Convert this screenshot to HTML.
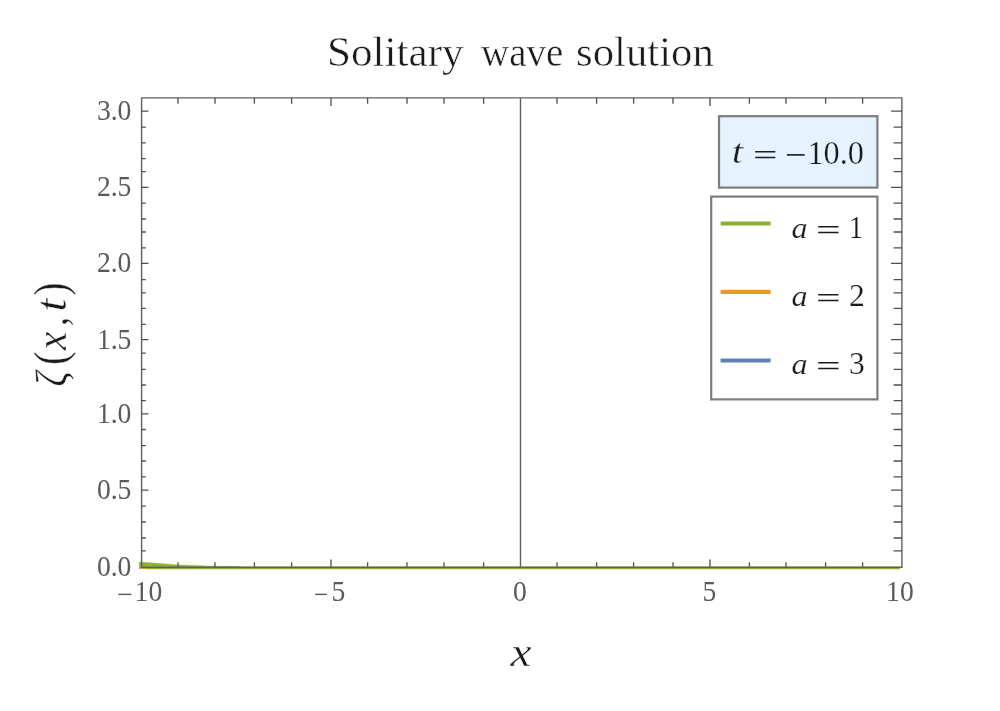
<!DOCTYPE html>
<html lang="en">
<head>
<meta charset="utf-8">
<title>Solitary wave solution</title>
<style>
html,body{margin:0;padding:0;background:#fff;}
body{width:1000px;height:711px;overflow:hidden;position:relative;font-family:"Liberation Serif",serif;}
svg{position:absolute;left:0;top:0;display:block;will-change:transform;}
text{font-family:"Liberation Serif",serif;}
.tk text{font-size:29px;fill:#5a5a5a;}
.it{font-style:italic;}
</style>
</head>
<body>
<svg width="1000" height="711" viewBox="0 0 1000 711">
<!-- curves -->
<path d="M139.3 568.2H900" stroke="#5e81b5" stroke-width="1.6" fill="none"/>
<path d="M139.3 568.2H900" stroke="#e19c24" stroke-width="1.6" fill="none"/>
<path d="M139.3 566.8H900.2V569.35H146.5V568.2H139.3Z" fill="#8fb032"/>
<path d="M139.3 562.1 L150 562.8 L160 563.5 L178 564.9 L196 565.6 L215 566.2 L240 566.7 L139.3 566.7Z" fill="#8fb032" stroke="#8fb032" stroke-width="0.4"/>
<!-- x = 0 gridline -->
<path d="M520.5 97.9V566.8" stroke="#606060" stroke-width="1.4" fill="none"/>
<!-- frame -->
<path d="M141.6 567.4V97.9H901.9V567.4" fill="none" stroke="#606060" stroke-width="1.4"/>
<rect x="140.9" y="566" width="761.7" height="1" fill="#605c7d" fill-opacity="0.52"/>
<rect x="140.9" y="567" width="761.7" height="1" fill="#4a5a2a" fill-opacity="0.8"/>
<path d="M178.0 97.9V103.8 M178.0 566.8V562.2 M215.0 97.9V103.8 M215.0 566.8V562.2 M254.4 97.9V103.8 M254.4 566.8V562.2 M291.6 97.9V103.8 M291.6 566.8V562.2 M331.0 97.9V106.1 M331.0 566.8V559.6 M367.6 97.9V103.8 M367.6 566.8V562.2 M407.0 97.9V103.8 M407.0 566.8V562.2 M444.0 97.9V103.8 M444.0 566.8V562.2 M483.6 97.9V103.8 M483.6 566.8V562.2 M557.0 97.9V103.8 M557.0 566.8V562.2 M596.6 97.9V103.8 M596.6 566.8V562.2 M633.6 97.9V103.8 M633.6 566.8V562.2 M673.0 97.9V103.8 M673.0 566.8V562.2 M710.0 97.9V106.1 M710.0 566.8V559.6 M749.4 97.9V103.8 M749.4 566.8V562.2 M786.0 97.9V103.8 M786.0 566.8V562.2 M825.6 97.9V103.8 M825.6 566.8V562.2 M862.6 97.9V103.8 M862.6 566.8V562.2 M141.6 111.2H148.4 M901.9 111.2H891.1 M141.6 127.2H145.8 M901.9 127.2H893.6 M141.6 142.9H145.8 M901.9 142.9H893.6 M141.6 158.7H145.8 M901.9 158.7H893.6 M141.6 171.7H145.8 M901.9 171.7H893.6 M141.6 187.3H148.4 M901.9 187.3H891.1 M141.6 203.2H145.8 M901.9 203.2H893.6 M141.6 219.0H145.8 M901.9 219.0H893.6 M141.6 232.0H145.8 M901.9 232.0H893.6 M141.6 247.9H145.8 M901.9 247.9H893.6 M141.6 263.4H148.4 M901.9 263.4H891.1 M141.6 279.6H145.8 M901.9 279.6H893.6 M141.6 292.9H145.8 M901.9 292.9H893.6 M141.6 308.4H145.8 M901.9 308.4H893.6 M141.6 324.4H145.8 M901.9 324.4H893.6 M141.6 339.7H148.4 M901.9 339.7H891.1 M141.6 353.2H145.8 M901.9 353.2H893.6 M141.6 369.4H145.8 M901.9 369.4H893.6 M141.6 385.0H145.8 M901.9 385.0H893.6 M141.6 400.7H145.8 M901.9 400.7H893.6 M141.6 413.8H148.4 M901.9 413.8H891.1 M141.6 429.5H145.8 M901.9 429.5H893.6 M141.6 445.7H145.8 M901.9 445.7H893.6 M141.6 461.0H145.8 M901.9 461.0H893.6 M141.6 476.8H145.8 M901.9 476.8H893.6 M141.6 490.2H148.4 M901.9 490.2H891.1 M141.6 506.2H145.8 M901.9 506.2H893.6 M141.6 522.0H145.8 M901.9 522.0H893.6 M141.6 538.0H145.8 M901.9 538.0H893.6 M141.6 550.8H145.8 M901.9 550.8H893.6" stroke="#4f4f4f" stroke-width="1.3" fill="none"/>
<!-- time box -->
<rect x="719" y="116.2" width="158.4" height="71.4" fill="#e6f2ff" stroke="#7c7c7c" stroke-width="2.2"/>
<!-- legend box -->
<rect x="711.2" y="196.6" width="166.2" height="202.8" fill="#ffffff" stroke="#7c7c7c" stroke-width="2.2"/>
<path d="M720.6 223.5H770.6" stroke="#8fb032" stroke-width="4.2"/>
<path d="M720.6 291.9H770.6" stroke="#e19c24" stroke-width="4.2"/>
<path d="M720.6 360.5H770.6" stroke="#5e81b5" stroke-width="4.2"/>
<!-- title -->
<text y="65.6" font-size="42" fill="#1a1a1a" stroke="#fff" stroke-width="0.5"><tspan x="327" textLength="136.7" lengthAdjust="spacingAndGlyphs">Solitary</tspan> <tspan x="481" textLength="82.2" lengthAdjust="spacingAndGlyphs">wave</tspan> <tspan x="576" textLength="137.8" lengthAdjust="spacingAndGlyphs">solution</tspan></text>
<g class="tk">
<text x="96.9" y="120.2" textLength="34.5" lengthAdjust="spacingAndGlyphs">3.0</text>
<text x="96.9" y="196.3" textLength="34.5" lengthAdjust="spacingAndGlyphs">2.5</text>
<text x="96.9" y="272.4" textLength="34.5" lengthAdjust="spacingAndGlyphs">2.0</text>
<text x="96.9" y="348.7" textLength="34.5" lengthAdjust="spacingAndGlyphs">1.5</text>
<text x="96.9" y="422.8" textLength="34.5" lengthAdjust="spacingAndGlyphs">1.0</text>
<text x="96.9" y="499.2" textLength="34.5" lengthAdjust="spacingAndGlyphs">0.5</text>
<text x="96.9" y="575.8" textLength="34.5" lengthAdjust="spacingAndGlyphs">0.0</text>
<text y="600.8"><tspan x="117" dy="3" textLength="15.7" lengthAdjust="spacingAndGlyphs">−</tspan><tspan x="134.6" dy="-3" textLength="27.6" lengthAdjust="spacingAndGlyphs">10</tspan></text>
<text y="600.8"><tspan x="314" dy="3" textLength="13.9" lengthAdjust="spacingAndGlyphs">−</tspan><tspan x="331.4" dy="-3" textLength="13.8" lengthAdjust="spacingAndGlyphs">5</tspan></text>
<text x="513" y="600.8" textLength="13.8" lengthAdjust="spacingAndGlyphs">0</text>
<text x="702.5" y="600.8" textLength="13.8" lengthAdjust="spacingAndGlyphs">5</text>
<text x="886.1" y="600.8" textLength="27.6" lengthAdjust="spacingAndGlyphs">10</text>
</g>
<!-- axis labels -->
<text class="it" x="510.6" y="665.6" font-size="42" fill="#1a1a1a" stroke="#fff" stroke-width="0.35" textLength="20.95" lengthAdjust="spacingAndGlyphs">x</text>
<text transform="translate(66.1 385.5) rotate(-90)" y="0" font-size="44" fill="#1a1a1a" stroke="#fff" stroke-width="0.4"><tspan class="it" x="-1" textLength="15.2" lengthAdjust="spacingAndGlyphs">ζ</tspan><tspan x="20.5" font-size="46" textLength="13.55" lengthAdjust="spacingAndGlyphs">(</tspan><tspan class="it" x="35.5" textLength="18.4" lengthAdjust="spacingAndGlyphs">x</tspan><tspan x="59.5" dy="1.3" textLength="8.9" lengthAdjust="spacingAndGlyphs">,</tspan> <tspan class="it" x="74" dy="-1.3" textLength="12.9" lengthAdjust="spacingAndGlyphs">t</tspan><tspan x="90" font-size="46" textLength="12.9" lengthAdjust="spacingAndGlyphs">)</tspan></text>
<!-- time label -->
<text y="163" font-size="33.3" fill="#1a1a1a" stroke="#e6f2ff" stroke-width="0.25"><tspan class="it" x="732" textLength="10.95" lengthAdjust="spacingAndGlyphs">t</tspan> <tspan x="753" dy="1.9" font-size="30" textLength="24.5" lengthAdjust="spacingAndGlyphs" stroke="none">=</tspan> <tspan x="785" dy="1.1" textLength="21.8" lengthAdjust="spacingAndGlyphs" stroke-width="0.15">−</tspan><tspan x="807.4" dy="-2.1" textLength="56.6" lengthAdjust="spacingAndGlyphs">10.0</tspan></text>
<!-- legend labels -->
<text y="238" font-size="33.3" fill="#1a1a1a" stroke="#fff" stroke-width="0.22"><tspan class="it" x="791.5" font-size="29.8" textLength="16.1" lengthAdjust="spacingAndGlyphs">a</tspan> <tspan x="816" dy="1.9" font-size="30" textLength="24.65" lengthAdjust="spacingAndGlyphs" stroke="none">=</tspan> <tspan x="848.5" dy="-1.9" font-size="32" textLength="14.9" lengthAdjust="spacingAndGlyphs">1</tspan></text>
<text y="306" font-size="33.3" fill="#1a1a1a" stroke="#fff" stroke-width="0.22"><tspan class="it" x="791.5" font-size="29.8" textLength="16.1" lengthAdjust="spacingAndGlyphs">a</tspan> <tspan x="816" dy="1.9" font-size="30" textLength="24.65" lengthAdjust="spacingAndGlyphs" stroke="none">=</tspan> <tspan x="849" dy="-1.9" font-size="32" textLength="15.8" lengthAdjust="spacingAndGlyphs">2</tspan></text>
<text y="374" font-size="33.3" fill="#1a1a1a" stroke="#fff" stroke-width="0.22"><tspan class="it" x="791.5" font-size="29.8" textLength="16.1" lengthAdjust="spacingAndGlyphs">a</tspan> <tspan x="816" dy="1.9" font-size="30" textLength="24.65" lengthAdjust="spacingAndGlyphs" stroke="none">=</tspan> <tspan x="849" dy="-1.9" font-size="32" textLength="15.8" lengthAdjust="spacingAndGlyphs">3</tspan></text>
</svg>
</body>
</html>
